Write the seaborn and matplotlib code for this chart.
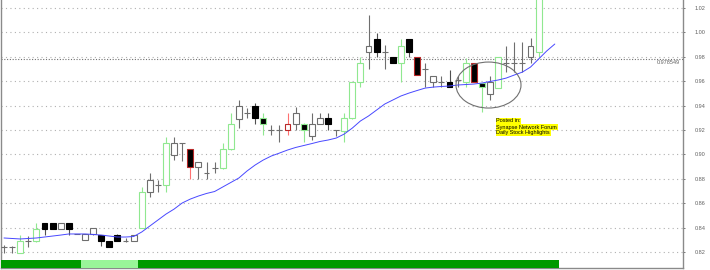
import numpy as np
import pandas as pd
import matplotlib
matplotlib.use("Agg")
import matplotlib.pyplot as plt
from matplotlib.patches import Ellipse
import seaborn as sns

# ---------------- data ----------------
opens = [0.8241, 0.8241, 0.8192, 0.8290, 0.8290, 0.8438, 0.8438, 0.8389, 0.8438, 0.8348,
         0.8298, 0.8348, 0.8339, 0.8290, 0.8339, 0.8290, 0.8290, 0.8397, 0.8692, 0.8749,
         0.8749, 0.8995, 0.9093, 0.9044, 0.8897, 0.8848, 0.8889, 0.8889, 0.9044, 0.9290,
         0.9339, 0.9397, 0.9298, 0.9200, 0.9200, 0.9200, 0.9249, 0.9249, 0.9151, 0.9249,
         0.9298, 0.9200, 0.9192, 0.9298, 0.9593, 0.9839, 0.9946, 0.9839, 0.9798, 0.9749,
         0.9946, 0.9798, 0.9700, 0.9593, 0.9593, 0.9593, 0.9610, 0.9593, 0.9749, 0.9585,
         0.9495, 0.9544, 0.9749, 0.9749, 0.9749, 0.9798, 0.9839, 1.0400, 1.0600]
highs = [0.8258, 0.8250, 0.8339, 0.8331, 0.8438, 0.8438, 0.8438, 0.8438, 0.8438, 0.8348,
         0.8348, 0.8397, 0.8339, 0.8290, 0.8348, 0.8315, 0.8339, 0.8733, 0.8848, 0.8790,
         0.9143, 0.9143, 0.9093, 0.9044, 0.8938, 0.8938, 0.8938, 0.9093, 0.9339, 0.9446,
         0.9380, 0.9421, 0.9339, 0.9241, 0.9241, 0.9339, 0.9389, 0.9257, 0.9339, 0.9339,
         0.9339, 0.9200, 0.9339, 0.9593, 0.9798, 1.0143, 0.9995, 0.9897, 0.9798, 0.9946,
         0.9946, 0.9798, 0.9749, 0.9643, 0.9643, 0.9692, 0.9643, 0.9790, 0.9749, 0.9585,
         0.9643, 0.9798, 0.9889, 0.9921, 0.9921, 0.9954, 1.0400, 1.0650, 1.0750]
lows = [0.8192, 0.8192, 0.8192, 0.8241, 0.8282, 0.8339, 0.8389, 0.8389, 0.8339, 0.8348,
        0.8298, 0.8339, 0.8250, 0.8241, 0.8290, 0.8282, 0.8290, 0.8397, 0.8651, 0.8692,
        0.8692, 0.8954, 0.8946, 0.8800, 0.8800, 0.8800, 0.8848, 0.8881, 0.9036, 0.9216,
        0.9298, 0.9249, 0.9159, 0.9159, 0.9102, 0.9159, 0.9200, 0.9102, 0.9118, 0.9249,
        0.9200, 0.9151, 0.9102, 0.9290, 0.9552, 0.9700, 0.9798, 0.9700, 0.9749, 0.9593,
        0.9798, 0.9651, 0.9552, 0.9552, 0.9552, 0.9552, 0.9552, 0.9552, 0.9593, 0.9348,
        0.9446, 0.9544, 0.9675, 0.9675, 0.9675, 0.9749, 0.9798, 1.0350, 1.0500]
closes = [0.8241, 0.8241, 0.8290, 0.8290, 0.8389, 0.8389, 0.8389, 0.8438, 0.8389, 0.8348,
          0.8348, 0.8397, 0.8290, 0.8241, 0.8290, 0.8290, 0.8339, 0.8692, 0.8790, 0.8749,
          0.9093, 0.9093, 0.9093, 0.8897, 0.8938, 0.8848, 0.8889, 0.9044, 0.9249, 0.9397,
          0.9339, 0.9298, 0.9249, 0.9200, 0.9200, 0.9249, 0.9339, 0.9200, 0.9249, 0.9298,
          0.9249, 0.9200, 0.9298, 0.9593, 0.9749, 0.9889, 0.9839, 0.9839, 0.9749, 0.9889,
          0.9839, 0.9651, 0.9700, 0.9643, 0.9593, 0.9552, 0.9610, 0.9749, 0.9593, 0.9552,
          0.9593, 0.9798, 0.9749, 0.9749, 0.9749, 0.9889, 1.0350, 1.0600, 1.0700]
# outline class per candle: g=grey, G=green, K=black, R=red
edge_class = list("ggGgGKKgKg" "ggKKKggGgg" "GggRgggGGg" "gKGggRgGgg"
                  "KgGGGgKgKG" "KRgggKgGRG" "gGggggGGG")
moving_avg = [0.8315, 0.8311, 0.8307, 0.8311, 0.8315, 0.8323, 0.8331, 0.8339, 0.8348, 0.8348,
              0.8348, 0.8344, 0.8339, 0.8331, 0.8323, 0.8323, 0.8327, 0.8364, 0.8413, 0.8462,
              0.8511, 0.8552, 0.8602, 0.8634, 0.8659, 0.8680, 0.8696, 0.8733, 0.8770, 0.8807,
              0.8864, 0.8913, 0.8954, 0.8987, 0.9011, 0.9036, 0.9057, 0.9073, 0.9089, 0.9106,
              0.9118, 0.9134, 0.9167, 0.9216, 0.9274, 0.9315, 0.9364, 0.9413, 0.9446, 0.9479,
              0.9503, 0.9524, 0.9544, 0.9552, 0.9557, 0.9561, 0.9569, 0.9573, 0.9577, 0.9585,
              0.9598, 0.9610, 0.9626, 0.9651, 0.9675, 0.9716, 0.9782, 0.9848, 0.9905]
# bottom indicator strip: D = dark green, L = light green
strip_state = list("D" * 10 + "L" * 7 + "D" * 52)
y_ticks = [0.82, 0.84, 0.86, 0.88, 0.90, 0.92, 0.94, 0.96, 0.98, 1.00, 1.02]
last_price = 0.978549
note_lines = ["Posted in:", "Synapse Network Forum", "Daily Stock Highlights"]

# ---------------- styling ----------------
sns.set_style("white")
plt.rcParams["font.family"] = ["Liberation Sans", "DejaVu Sans"]

edge_colors = {"g": "#6e6e6e", "G": "#90e890", "K": "#000000", "R": "#b82828"}
wick_colors = {"g": "#6e6e6e", "G": "#90e890", "K": "#505050", "R": "#ff7070"}
strip_colors = {"D": "#009a00", "L": "#99f599"}

n = len(opens)
idx = np.arange(n)
df = pd.DataFrame({"i": idx, "open": opens, "high": highs, "low": lows,
                   "close": closes, "ma": moving_avg, "cls": edge_class[:n]})

fig = plt.figure(figsize=(7.1, 2.7), dpi=100)
ax = fig.add_axes([0.5 / 710, 2 / 270, 682 / 710, 268 / 270])
ax.set_xlim((0.5 - 4) / 8.1, (682.5 - 4) / 8.1)
ax.set_ylim(0.8069, 1.0266)

# grid
for t in y_ticks:
    ax.axhline(t, color="#b0b0b0", lw=0.8, ls=(0, (1, 3)), zorder=0)

# last price line
ax.axhline(last_price, color="#707070", lw=0.8, ls=(0, (1, 1.5)), zorder=1)
ax.text((680 - 4) / 8.1, last_price - 0.0012, f"{last_price:.6f}", ha="right", va="top",
        fontsize=4, color="#606060")

# wicks
wc = [wick_colors[c] for c in df["cls"]]
ax.vlines(df["i"], df["low"], df["high"], colors=wc, lw=0.8, zorder=2)

# bodies
bw = 0.72
for i, o, c, cl in zip(df["i"], df["open"], df["close"], df["cls"]):
    ec = edge_colors[cl]
    if abs(c - o) < 1e-6:
        ax.hlines(o, i - bw / 2, i + bw / 2, colors=wick_colors[cl], lw=0.8, zorder=3)
    else:
        fc = "#000000" if c < o else "#ffffff"
        ax.bar(i, abs(c - o), bottom=min(o, c), width=bw, color=fc, edgecolor=ec,
               linewidth=0.8, zorder=3)

# moving average
sns.lineplot(data=df, x="i", y="ma", ax=ax, color="#4848ff", lw=0.7, zorder=4, legend=False)

# bottom strip
sc = [strip_colors[s] for s in strip_state]
ax.bar(np.arange(len(strip_state)), 0.8134 - 0.8069, bottom=0.8069, width=1.0,
       color=sc, linewidth=0, zorder=5)

# ellipse
ell = Ellipse(((488.5 - 4) / 8.1, 1.02 - (85 - 8) / 1220), width=65 / 8.1, height=46 / 1220,
              fill=False, edgecolor="#707070", lw=0.8, zorder=6)
ax.add_patch(ell)

# note
for line, yv in zip(note_lines, [0.9276, 0.9224, 0.9176]):
    ax.text((496.5 - 4) / 8.1, yv, line, fontsize=4, color="#000000", va="center", ha="left",
            bbox=dict(facecolor="#ffff00", edgecolor="none", pad=0.3), zorder=7)

# axes look
ax.set_xlabel("")
ax.set_ylabel("")
ax.set_xticks([])
ax.yaxis.tick_right()
ax.set_yticks(y_ticks)
ax.set_yticklabels([f"{t:.2f}" for t in y_ticks])
ax.tick_params(axis="y", right=True, length=1.5, width=0.6, pad=7, labelsize=4,
               labelcolor="#606060", color="#606060")
for s in ax.spines.values():
    s.set_color("#8a8a8a")
    s.set_linewidth(1.0)
ax.spines["top"].set_visible(False)

fig.savefig("out.png", dpi=100)
